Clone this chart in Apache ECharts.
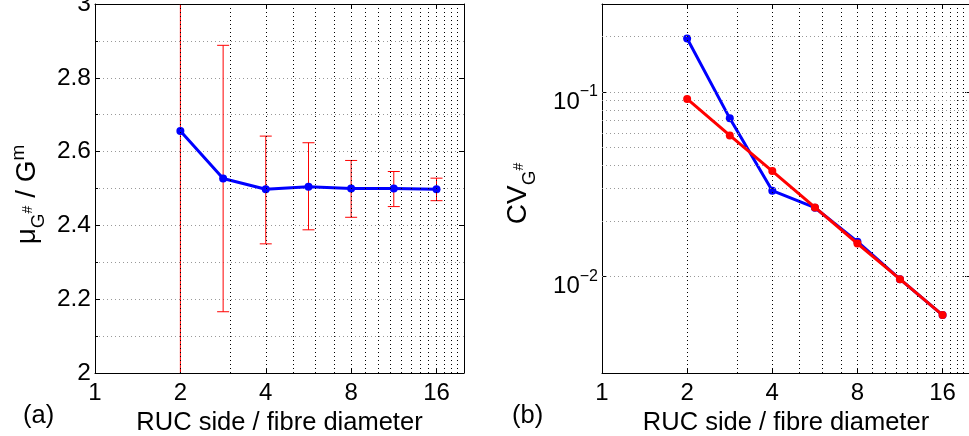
<!DOCTYPE html>
<html><head><meta charset="utf-8">
<script src="https://cdn.jsdelivr.net/npm/echarts@6/dist/echarts.min.js"></script>
<style>html,body{margin:0;padding:0;background:#fff}#c{width:969px;height:436px}</style>
</head><body><div id="c"></div>
<script>
// ---------- data ----------
const xValues   = [2, 2.83, 4, 5.66, 8, 11.31, 16];
const meanValues = [2.656, 2.527, 2.498, 2.505, 2.500, 2.500, 2.498];
const errLow    = [1.5, 2.166, 2.350, 2.388, 2.422, 2.451, 2.467];
const errHigh   = [3.8, 2.888, 2.642, 2.624, 2.576, 2.546, 2.528];
const cvBlue    = [0.195, 0.072, 0.0292, 0.0236, 0.01545, 0.00967, 0.00618];
const cvRed     = [0.0917, 0.0582, 0.0373, 0.0237, 0.0151, 0.00967, 0.00618];
const xTickLabels = [1, 2, 4, 8, 16];
const xGridValues = [2,3,4,5,6,7,8,9,10,11,12,13,14,15,16,17,18,19];
const yGridRight = [0.004,0.005,0.006,0.007,0.008,0.009,0.01,0.02,0.03,0.04,0.05,0.06,0.07,0.08,0.09,0.1,0.2];

const FF = '"Liberation Sans", Arial, Helvetica, sans-serif';
const chart = echarts.init(document.getElementById('c'));

function xAxisBottom(gi){
  return {type:'log', logBase:2, gridIndex:gi, min:1, max:20,
    axisLine:{show:true, onZero:false, lineStyle:{color:'#000', width:1}},
    axisTick:{show:true, inside:true, length:5, lineStyle:{color:'#000'}},
    axisLabel:{color:'#000', fontSize:24, fontFamily:FF, margin:8, showMaxLabel:false,
      formatter: v => { const r = Math.round(v); return (Math.abs(v-r)<1e-6 && xTickLabels.includes(r)) ? String(r) : ''; }},
    splitLine:{show:false},
    name:'RUC side / fibre diameter', nameLocation:'middle', nameGap:42.5,
    nameTextStyle:{color:'#000', fontSize:25.5, fontFamily:FF, verticalAlign:'middle', lineHeight:26}
  };
}
function xAxisTop(gi){
  return {type:'log', logBase:2, gridIndex:gi, min:1, max:20, position:'top',
    axisLine:{show:true, onZero:false, lineStyle:{color:'#000', width:1}},
    axisTick:{show:true, inside:true, length:5, lineStyle:{color:'#000'}},
    axisLabel:{show:false}, splitLine:{show:false}};
}
const nameRich = {
  m:{fontSize:28, fontFamily:FF, color:'#000', lineHeight:28, padding:[8,0,0,0], verticalAlign:'top'},
  sub:{fontSize:19, fontFamily:FF, color:'#000', lineHeight:19, padding:[24,0,0,0], verticalAlign:'top'},
  sh:{fontSize:14, fontFamily:FF, color:'#000', lineHeight:14, padding:[16,0,0,0], verticalAlign:'top'},
  sup:{fontSize:19, fontFamily:FF, color:'#000', lineHeight:19, padding:[4,0,0,0], verticalAlign:'top'}
};
const tickRich = {
  b:{fontSize:24, fontFamily:FF, color:'#000', lineHeight:24, padding:[10,0,12,0], verticalAlign:'top'},
  s:{fontSize:16, fontFamily:FF, color:'#000', lineHeight:16, padding:[4,0,0,0], verticalAlign:'top'}
};

const option = {
  animation:false,
  backgroundColor:'#fff',
  grid:[
    {left:95, top:4, width:369, height:369, containLabel:false, outerBoundsMode:'none'},
    {left:602, top:4, width:368, height:369, containLabel:false, outerBoundsMode:'none'}
  ],
  xAxis:[xAxisBottom(0), xAxisBottom(1), xAxisTop(0), xAxisTop(1)],
  yAxis:[
    {type:'value', gridIndex:0, min:2, max:3, interval:0.2,
      axisLine:{show:true, onZero:false, lineStyle:{color:'#000'}},
      axisTick:{show:true, inside:true, length:5, lineStyle:{color:'#000'}},
      minorTick:{show:true, splitNumber:2, length:3, lineStyle:{color:'#000'}},
      axisLabel:{color:'#000', fontSize:24.5, fontFamily:FF, margin:4,
        formatter: v => String(Math.round(v*10)/10)},
      splitLine:{show:true, lineStyle:{type:[1,3], color:'#999'}},
      minorSplitLine:{show:true, lineStyle:{type:[1,3], color:'#999'}},
      name:'{m|μ}{sub|G}{sh|#}{m| / G}{sup|m}', nameLocation:'middle', nameRotate:90, nameGap:76,
      nameTextStyle:{verticalAlign:'middle', align:'center', padding:[0,12,0,0], rich:nameRich}
    },
    {type:'log', logBase:10, gridIndex:1, min:0.003, max:0.3,
      axisLine:{show:true, onZero:false, lineStyle:{color:'#000'}},
      axisTick:{show:true, inside:true, length:5, lineStyle:{color:'#000'}},
      axisLabel:{color:'#000', margin:4, showMinLabel:false, showMaxLabel:false, rich:tickRich,
        formatter: v => { const l = Math.log10(v); const e = Math.round(l); if (Math.abs(l-e)>1e-6) return ''; return '{b|10}{s|\u2212' + (-e) + '}'; }},
      splitLine:{show:false},
      name:'{m|CV}{sub|G}{sh|#}', nameLocation:'middle', nameRotate:90, nameGap:92,
      nameTextStyle:{verticalAlign:'middle', align:'center', padding:[0,10,0,0], rich:nameRich}
    },
    {type:'value', gridIndex:0, min:2, max:3, interval:0.2, position:'right',
      axisLine:{show:true, onZero:false, lineStyle:{color:'#000'}},
      axisTick:{show:true, inside:true, length:5, lineStyle:{color:'#000'}},
      axisLabel:{show:false}, splitLine:{show:false}},
    {type:'log', logBase:10, gridIndex:1, min:0.003, max:0.3, position:'right',
      axisLine:{show:true, onZero:false, lineStyle:{color:'#000'}},
      axisTick:{show:true, inside:true, length:5, lineStyle:{color:'#000'}},
      axisLabel:{show:false}, splitLine:{show:false}}
  ],
  graphic:[
    {type:'text', left:23, top:403, style:{text:'(a)', fontSize:25.5, fontFamily:FF, fill:'#000'}},
    {type:'text', left:512, top:403, style:{text:'(b)', fontSize:25.5, fontFamily:FF, fill:'#000'}}
  ],
  series:[
    {type:'line', xAxisIndex:0, yAxisIndex:0, data:[], silent:true, z:1,
      markLine:{silent:true, symbol:'none', animation:false, label:{show:false},
        lineStyle:{type:[1,3], color:'#000', width:1},
        emphasis:{disabled:true},
        data: xGridValues.map(v => ({xAxis:v}))}},
    {type:'line', xAxisIndex:1, yAxisIndex:1, data:[], silent:true, z:1,
      markLine:{silent:true, symbol:'none', animation:false, label:{show:false},
        lineStyle:{type:[1,3], color:'#000', width:1},
        emphasis:{disabled:true},
        data: xGridValues.map(v => ({xAxis:v})).concat(
          yGridRight.map(v => ({yAxis:v, lineStyle:{type:[1,3], color:'#999', width:1}})))}},
    {type:'custom', xAxisIndex:0, yAxisIndex:0, clip:true, z:3, silent:true,
      data: xValues.map((x,i) => [x, errLow[i], errHigh[i]]),
      renderItem(params, api){
        const x = api.value(0), lo = api.value(1), hi = api.value(2);
        const pLo = api.coord([x, lo]), pHi = api.coord([x, hi]);
        const hw = 6, st = {stroke:'#ff0000', lineWidth:1};
        return {type:'group', children:[
          {type:'line', shape:{x1:pLo[0], y1:pLo[1], x2:pHi[0], y2:pHi[1]}, style:st},
          {type:'line', shape:{x1:pHi[0]-hw, y1:pHi[1], x2:pHi[0]+hw, y2:pHi[1]}, style:st},
          {type:'line', shape:{x1:pLo[0]-hw, y1:pLo[1], x2:pLo[0]+hw, y2:pLo[1]}, style:st}
        ]};
      }},
    {type:'line', xAxisIndex:0, yAxisIndex:0, z:4, data: xValues.map((x,i)=>[x, meanValues[i]]),
      symbol:'circle', symbolSize:8, lineStyle:{color:'#0000ff', width:3}, itemStyle:{color:'#0000ff'}},
    {type:'line', xAxisIndex:1, yAxisIndex:1, z:4, data: xValues.map((x,i)=>[x, cvBlue[i]]),
      symbol:'circle', symbolSize:8, lineStyle:{color:'#0000ff', width:3}, itemStyle:{color:'#0000ff'}},
    {type:'line', xAxisIndex:1, yAxisIndex:1, z:5, data: xValues.map((x,i)=>[x, cvRed[i]]),
      symbol:'circle', symbolSize:8, lineStyle:{color:'#ff0000', width:3}, itemStyle:{color:'#ff0000'}}
  ]
};
chart.setOption(option);
</script></body></html>
